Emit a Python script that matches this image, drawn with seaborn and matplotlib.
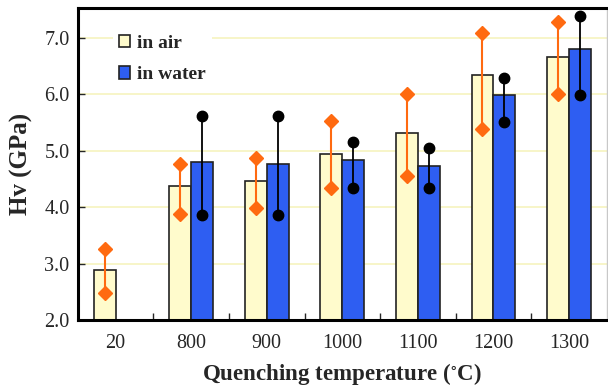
import matplotlib
matplotlib.use("Agg")
import matplotlib.pyplot as plt
from matplotlib.ticker import FixedLocator
import seaborn as sns
import pandas as pd
import numpy as np

categories = ["20", "800", "900", "1000", "1100", "1200", "1300"]
air_mean = [2.88, 4.37, 4.46, 4.94, 5.32, 6.33, 6.66]
air_low = [2.48, 3.87, 3.99, 4.34, 4.55, 5.39, 6.00]
air_high = [3.25, 4.76, 4.87, 5.52, 6.01, 7.08, 7.27]
water_mean = [np.nan, 4.79, 4.77, 4.83, 4.73, 5.99, 6.79]
water_low = [np.nan, 3.86, 3.86, 4.33, 4.33, 5.50, 5.99]
water_high = [np.nan, 5.61, 5.61, 5.15, 5.04, 6.28, 7.39]
series = ["in air", "in water"]

sns.set_style("white")
plt.rcParams["font.family"] = ["Liberation Serif", "DejaVu Serif"]
plt.rcParams["mathtext.fontset"] = "stix"

air_col = "#FFFBCC"
water_col = "#2E5EF2"
orange = "#FF6A10"

df = pd.DataFrame({
    "T": categories * 2,
    "series": [series[0]] * len(categories) + [series[1]] * len(categories),
    "Hv": air_mean + water_mean,
})

fig = plt.figure(figsize=(6.08, 3.89), dpi=100)
ax = fig.add_axes([0.128, 0.177, 0.870, 0.802])

sns.barplot(data=df, x="T", y="Hv", hue="series", order=categories,
            hue_order=series, palette=[air_col, water_col], width=0.58,
            saturation=1, edgecolor="#222222", linewidth=1.2, ax=ax,
            errorbar=None, zorder=2)

x = np.arange(len(categories))
off = 0.145
for i in range(len(categories)):
    if not np.isnan(air_mean[i]):
        ax.plot([x[i] - off, x[i] - off], [air_low[i], air_high[i]],
                color=orange, lw=1.5, zorder=3)
        ax.plot([x[i] - off] * 2, [air_low[i], air_high[i]], ls="none",
                marker="D", ms=7, color=orange, zorder=4, clip_on=False)
    if not np.isnan(water_mean[i]):
        ax.plot([x[i] + off, x[i] + off], [water_low[i], water_high[i]],
                color="black", lw=1.3, zorder=3)
        ax.plot([x[i] + off] * 2, [water_low[i], water_high[i]], ls="none",
                marker="o", ms=7.5, color="black", zorder=4, clip_on=False)

ax.set_xlim(-0.5, len(categories) - 0.5)
ax.set_ylim(2.0, 7.52)
ax.set_yticks([2.0, 3.0, 4.0, 5.0, 6.0, 7.0])
ax.set_yticklabels(["2.0", "3.0", "4.0", "5.0", "6.0", "7.0"])
ax.yaxis.grid(True, color="#F7F5C4", lw=1.3, zorder=0)
ax.set_axisbelow(True)

ax.tick_params(axis="y", direction="in", length=5, width=1, labelsize=14.5,
               left=True, pad=6)
ax.tick_params(axis="x", which="major", length=0, labelsize=14.5, pad=10)
ax.xaxis.set_minor_locator(FixedLocator(np.arange(0.5, len(categories) - 0.5, 1.0)))
ax.tick_params(axis="x", which="minor", direction="in", length=5, width=1,
               bottom=True)

for s in ["left", "bottom", "top"]:
    ax.spines[s].set_linewidth(2.2)
    ax.spines[s].set_color("black")
ax.spines["right"].set_linewidth(1)
ax.spines["right"].set_edgecolor("#c8c8c8")

ax.set_xlabel("Quenching temperature ($^{\\circ}$C)", fontsize=16.5,
              fontweight="bold", labelpad=6)
ax.set_ylabel("Hv (GPa)", fontsize=18, fontweight="bold", labelpad=8)

leg = ax.legend(loc="upper left", bbox_to_anchor=(0.048, 0.965),
                frameon=True, edgecolor="none", facecolor="white",
                framealpha=1, handlelength=0.6, handleheight=0.6,
                handletextpad=0.35, labelspacing=0.75, borderpad=0.3,
                prop={"weight": "bold", "size": 14})

fig.savefig("out.png", dpi=100)
